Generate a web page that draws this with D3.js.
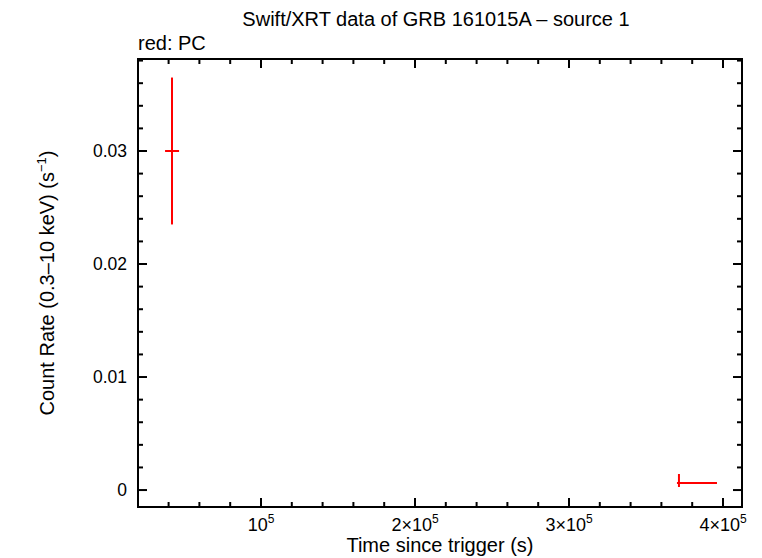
<!DOCTYPE html>
<html>
<head>
<meta charset="utf-8">
<script src="https://cdn.jsdelivr.net/npm/d3@7"></script>
<style>
  body { margin: 0; background: #fff; }
  text { font-family: "Liberation Sans", Arial, sans-serif; fill: #000; }
</style>
</head>
<body>
<svg width="762" height="558"></svg>
<script>
var width = 762;
var height = 558;

// PC mode points: time, time err low/high, rate, rate err low/high
var times    = [42200, 371400];
var tNeg     = [4500, 1300];
var tPos     = [4600, 24700];
var rates    = [0.0300, 0.00062];
var rNeg     = [0.0065, 0.00035];
var rPos     = [0.0065, 0.0008];

var xMajor = [1e5, 2e5, 3e5, 4e5];
var xLabels = ['10', '2\u00d710', '3\u00d710', '4\u00d710'];
var yMajor = [0, 0.01, 0.02, 0.03];
var yLabels = ['0', '0.01', '0.02', '0.03'];

var margin = {left: 138, right: 20, top: 59, bottom: 51};

var x = d3.scaleLinear()
    .domain([20130, 412340])
    .range([margin.left, width - margin.right]);
var y = d3.scaleLinear()
    .domain([-0.0015, 0.03814])
    .range([height - margin.bottom, margin.top]);

var svg = d3.select('svg');

var xMinor = d3.range(20000, 412340, 20000).filter(v => v > 20130 && xMajor.indexOf(v) === -1);
var yMinor = d3.range(-0.0015, 0.0382, 0.002).map(v => Math.round((v + 0.0015) / 0.002) * 0.002)
    .filter(v => v > -0.0015 && v < 0.03814 && yMajor.every(m => Math.abs(m - v) > 1e-9));

var x0 = x.range()[0], x1 = x.range()[1];
var y0 = y.range()[0], y1 = y.range()[1];

var ticks = svg.append('g').attr('stroke', '#000').attr('stroke-width', 2);
function vtick(v, len) {
    ticks.append('line').attr('x1', x(v)).attr('x2', x(v)).attr('y1', y0).attr('y2', y0 - len);
    ticks.append('line').attr('x1', x(v)).attr('x2', x(v)).attr('y1', y1).attr('y2', y1 + len);
}
function htick(v, len) {
    ticks.append('line').attr('y1', y(v)).attr('y2', y(v)).attr('x1', x0).attr('x2', x0 + len);
    ticks.append('line').attr('y1', y(v)).attr('y2', y(v)).attr('x1', x1).attr('x2', x1 - len);
}
xMajor.forEach(v => vtick(v, 9));
xMinor.forEach(v => vtick(v, 5));
yMajor.forEach(v => htick(v, 9));
yMinor.forEach(v => htick(v, 5));

svg.append('rect')
    .attr('x', x0).attr('y', y1)
    .attr('width', x1 - x0).attr('height', y0 - y1)
    .attr('fill', 'none').attr('stroke', '#000').attr('stroke-width', 2);

// x tick labels with superscript exponent
xMajor.forEach(function(v, i) {
    var t = svg.append('text')
        .attr('x', x(v)).attr('y', 531)
        .attr('text-anchor', 'middle')
        .attr('font-size', 18);
    t.append('tspan').text(xLabels[i]);
    t.append('tspan').attr('dy', -8).attr('font-size', 12).text('5');
});

yMajor.forEach(function(v, i) {
    svg.append('text')
        .attr('x', 127).attr('y', y(v) + 6)
        .attr('text-anchor', 'end')
        .attr('font-size', 17.5)
        .text(yLabels[i]);
});

svg.append('text')
    .attr('x', 440).attr('y', 552)
    .attr('text-anchor', 'middle').attr('font-size', 20)
    .text('Time since trigger (s)');

var yl = svg.append('text')
    .attr('transform', 'translate(54,' + 283 + ') rotate(-90)')
    .attr('text-anchor', 'middle').attr('font-size', 20);
yl.append('tspan').text('Count Rate (0.3\u201310 keV) (s');
yl.append('tspan').attr('dy', -8).attr('font-size', 13).text('\u22121');
yl.append('tspan').attr('dy', 8).text(')');

svg.append('text')
    .attr('x', 436).attr('y', 26)
    .attr('text-anchor', 'middle').attr('font-size', 20)
    .text('Swift/XRT data of GRB 161015A \u2013 source 1');

svg.append('text')
    .attr('x', 138).attr('y', 50)
    .attr('font-size', 20)
    .text('red: PC');

var pts = svg.append('g').attr('stroke', '#ff0000').attr('stroke-width', 2);
times.forEach(function(t, i) {
    pts.append('line')
        .attr('x1', x(t - tNeg[i])).attr('x2', x(t + tPos[i]))
        .attr('y1', y(rates[i])).attr('y2', y(rates[i]));
    pts.append('line')
        .attr('x1', x(t)).attr('x2', x(t))
        .attr('y1', y(rates[i] - rNeg[i])).attr('y2', y(rates[i] + rPos[i]));
});
</script>
</body>
</html>
